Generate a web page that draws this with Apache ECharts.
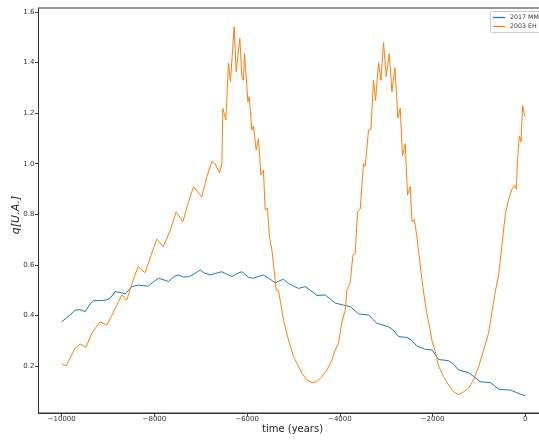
<!DOCTYPE html>
<html>
<head>
<meta charset="utf-8">
<script src="https://cdn.jsdelivr.net/npm/echarts@6/dist/echarts.min.js"></script>
<style>html,body{margin:0;padding:0;background:#fff;overflow:hidden;width:539px;height:441px;}#c{width:560px;height:441px;}</style>
</head>
<body>
<div id="c"></div>
<script>
var seriesNames = ['2017 MM', '2003 EH'];
var xTicks = [-10000, -8000, -6000, -4000, -2000, 0];
var yTicks = [0.2, 0.4, 0.6, 0.8, 1.0, 1.2, 1.4, 1.6];

var blueTime = [-10000,-9819,-9711,-9603,-9495,-9387,-9316,-9171,-9027,-8934,-8848,-8740,-8632,-8488,-8345,-8244,-8129,-8028,-7914,-7812,-7698,-7575,-7482,-7381,-7266,-7143,-7014,-6927,-6798,-6690,-6545,-6452,-6329,-6237,-6114,-5971,-5863,-5762,-5648,-5525,-5395,-5287,-5216,-5114,-5000,-4892,-4748,-4640,-4495,-4316,-4208,-4100,-3921,-3777,-3597,-3382,-3200,-2950,-2849,-2734,-2553,-2460,-2337,-2158,-2007,-1871,-1655,-1554,-1439,-1224,-1101,-971,-755,-669,-576,-324,-216,-108,0];
var blueQ = [0.375,0.402,0.421,0.423,0.415,0.445,0.458,0.459,0.461,0.473,0.494,0.491,0.485,0.514,0.520,0.518,0.516,0.532,0.547,0.542,0.534,0.554,0.560,0.552,0.553,0.564,0.580,0.568,0.560,0.566,0.573,0.564,0.554,0.564,0.573,0.551,0.547,0.554,0.560,0.546,0.529,0.538,0.543,0.528,0.516,0.507,0.514,0.500,0.479,0.481,0.465,0.449,0.441,0.435,0.406,0.402,0.369,0.355,0.342,0.316,0.313,0.303,0.279,0.266,0.263,0.226,0.221,0.208,0.184,0.174,0.157,0.138,0.134,0.123,0.108,0.105,0.097,0.089,0.082];

var orangeTime = [-10000,-9905,-9711,-9603,-9474,-9351,-9171,-9027,-8891,-8703,-8595,-8459,-8351,-8200,-8056,-7948,-7812,-7661,-7531,-7387,-7272,-7158,-6977,-6869,-6761,-6690,-6597,-6545,-6524,-6459,-6403,-6360,-6323,-6280,-6237,-6209,-6157,-6114,-6079,-6057,-5984,-5956,-5898,-5863,-5805,-5755,-5704,-5648,-5611,-5561,-5518,-5466,-5438,-5373,-5324,-5216,-5108,-5071,-4999,-4926,-4819,-4711,-4603,-4495,-4387,-4279,-4171,-4100,-4029,-3956,-3884,-3848,-3777,-3718,-3669,-3619,-3561,-3490,-3453,-3382,-3330,-3274,-3231,-3166,-3114,-3058,-3000,-2935,-2877,-2812,-2747,-2698,-2648,-2590,-2540,-2482,-2445,-2395,-2337,-2281,-2208,-2136,-2065,-2013,-1942,-1871,-1763,-1655,-1547,-1439,-1331,-1224,-1116,-1008,-900,-792,-719,-647,-576,-503,-432,-360,-287,-231,-194,-166,-129,-93,-58,-15,0];
var orangeQ = [0.21,0.20,0.27,0.287,0.274,0.33,0.375,0.362,0.41,0.481,0.461,0.54,0.593,0.569,0.647,0.702,0.672,0.735,0.81,0.771,0.845,0.909,0.869,0.949,1.008,1.0,0.964,1.0,1.219,1.173,1.397,1.324,1.33,1.542,1.364,1.37,1.496,1.344,1.33,1.436,1.245,1.265,1.133,1.15,1.054,1.10,0.955,0.975,0.817,0.825,0.711,0.659,0.66,0.50,0.50,0.382,0.303,0.30,0.237,0.21,0.171,0.145,0.134,0.138,0.158,0.184,0.224,0.263,0.29,0.375,0.42,0.50,0.53,0.64,0.645,0.81,0.82,1.00,0.99,1.133,1.135,1.33,1.25,1.40,1.33,1.48,1.345,1.435,1.285,1.38,1.18,1.22,1.03,1.08,0.876,0.91,0.77,0.78,0.71,0.62,0.51,0.42,0.355,0.30,0.257,0.20,0.158,0.125,0.098,0.087,0.098,0.112,0.145,0.197,0.263,0.33,0.415,0.495,0.56,0.68,0.80,0.86,0.90,0.915,0.90,1.02,1.11,1.087,1.23,1.19,1.185];

function pairs(xs, ys) { return xs.map(function (x, i) { return [x, ys[i]]; }); }

var chart = echarts.init(document.getElementById('c'), null, {renderer: 'canvas', width: 560, height: 441});
var tickText = {fontFamily: 'DejaVu Sans', fontSize: 7, color: '#333'};
chart.setOption({
  animation: false,
  backgroundColor: '#fff',
  grid: {left: 38.5, top: 8, width: 510, height: 405, show: true, borderColor: '#333', borderWidth: 1, backgroundColor: 'transparent'},
  legend: {
    orient: 'vertical', left: 490.5, top: 11.5,
    data: seriesNames,
    icon: 'rect', itemWidth: 12, itemHeight: 1.3, itemGap: 3,
    textStyle: {fontFamily: 'DejaVu Sans', fontSize: 6.3, color: '#333'},
    backgroundColor: '#fff', borderColor: '#ccc', borderWidth: 1, borderRadius: 2, padding: [3, 4, 3, 2.5]
  },
  xAxis: {
    type: 'value', min: -10500, max: 500,
    axisLine: {show: true, onZero: false, lineStyle: {color: '#333', width: 1}},
    splitLine: {show: false},
    axisTick: {show: true, length: 3.5, lineStyle: {color: '#333'}, customValues: xTicks},
    axisLabel: Object.assign({margin: 3, customValues: xTicks, formatter: function (v) { return String(v).replace('-', '\u2212'); }}, tickText)
  },
  yAxis: {
    type: 'value', min: 0.0142, max: 1.616,
    axisLine: {show: true, onZero: false, lineStyle: {color: '#333', width: 1}},
    splitLine: {show: false},
    axisTick: {show: true, length: 3.5, lineStyle: {color: '#333'}, customValues: yTicks},
    axisLabel: Object.assign({margin: 4, customValues: yTicks, formatter: function (v) { return v.toFixed(1); }}, tickText)
  },
  graphic: [
    {type: 'text', left: 262, top: 424, style: {text: 'time (years)', font: '10px "DejaVu Sans"', fill: '#222'}},
    {type: 'text', x: 16, y: 215, rotation: Math.PI / 2, style: {text: 'q[U.A.]', font: 'italic 11px "DejaVu Sans"', fill: '#222', align: 'center', verticalAlign: 'middle'}}
  ],
  series: [
    {name: seriesNames[0], type: 'line', data: pairs(blueTime, blueQ), showSymbol: false, lineStyle: {color: '#1f77b4', width: 1}, itemStyle: {color: '#1f77b4'}},
    {name: seriesNames[1], type: 'line', data: pairs(orangeTime, orangeQ), showSymbol: false, lineStyle: {color: '#ff7f0e', width: 1}, itemStyle: {color: '#ff7f0e'}}
  ]
});
</script>
</body>
</html>
